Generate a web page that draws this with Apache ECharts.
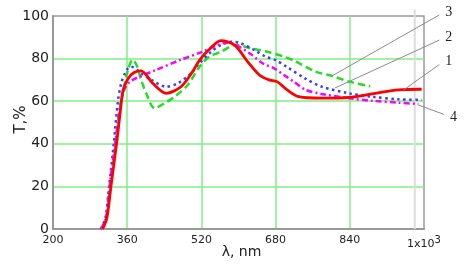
<!DOCTYPE html>
<html><head><meta charset="utf-8">
<script src="https://cdn.jsdelivr.net/npm/echarts@6/dist/echarts.min.js"></script>
<style>html,body{margin:0;padding:0;background:#fff}#c{width:468px;height:271px}</style>
</head><body><div id="c"></div>
<script>
// Axis ticks
const xTicks = [200, 360, 520, 680, 840, 1000];
const yTicks = [0, 20, 40, 60, 80, 100];

// Curve 1 (red, solid)
const wl1 = [307,316,325,337,345,351,362,375,390,415,444,476,501,516,540,562,591,620,645,666,683,705,730,780,838,895,945,995];
const t1  = [0,5,20,40,55,65,70.7,73.5,74.2,68.4,63.7,66.8,73.9,79.3,85,88.4,86.4,78.5,72.3,70,69.2,65.3,62.1,61.4,61.8,63.7,65.3,65.6];

// Curve 2 (blue, dotted)
const wl2 = [303,313,321,331,340,347,355,362,369,380,390,412,444,469,498,512,541,562,584,605,634,659,680,705,745,780,838,888,945,995];
const t2  = [0,5,20,40,60,68.4,73,75.5,76.2,75,73.1,70,66.8,68.4,73.1,77,83.2,86.4,87.9,87.2,84,80.9,79.3,76,70.5,66.8,63.7,62.1,60.9,60.6];

// Curve 3 (green, dashed)
const wl3 = [304,315,323,335,343,351,362,372,381,390,401,419,440,462,490,516,537,562,584,594,627,662,698,720,766,802,838,884];
const t3  = [0,5,20,40,55,64,75,79.5,76.5,70,63.7,56.7,59,62.1,67.5,76.2,80.9,83.2,85.9,86.4,84.8,83.2,80.9,79,73.9,71.8,69.2,67];

// Curve 4 (magenta, dash-dot)
const wl4 = [304,314,322,334,343,350,357,365,376,420,476,520,551,575,598,627,652,677,700,720,745,780,838,888,945,988];
const t4  = [0,5,20,40,55,63,67,69,70.5,74.5,79.5,83,86,87.5,86,82,77.8,75.4,72,69,65.3,63.4,61.4,60.2,59.3,58.7];

// Callout labels and the curve points they point to / line ends (data units)
const calloutLabels = ['3', '2', '1', '4'];
const calloutFrom = [[801, 71.8], [808, 66.2], [956, 65.3], [988, 58.2]];
const calloutTo   = [[1033, 100.5], [1033, 88.7], [1033, 77.2], [1043, 53.8]];
const markerWl = 980;

function pairs(a, b) { return a.map((v, i) => [v, b[i]]); }

const chart = echarts.init(document.getElementById('c'), null, {renderer: 'canvas'});
const font = 'DejaVu Sans';
const option = {
  animation: false,
  grid: {left: 53, top: 16, right: 44, bottom: 42, containLabel: false, outerBoundsMode: 'none',
         show: true, borderColor: '#999', borderWidth: 1.5, backgroundColor: 'transparent'},
  xAxis: {
    type: 'value', min: xTicks[0], max: xTicks[xTicks.length - 1], interval: xTicks[1] - xTicks[0],
    name: 'λ, nm', nameLocation: 'middle', nameGap: 16, nameMoveOverlap: false,
    nameTextStyle: {fontFamily: font, fontSize: 14, color: '#222', padding: [0, 0, 0, 6]},
    axisLine: {lineStyle: {color: '#999', width: 2}},
    axisTick: {show: false},
    axisLabel: {
      margin: 6, fontFamily: font, fontSize: 11, color: '#222',
      formatter: v => v === 1000 ? '{a|1x10}{s|3}' : String(v),
      rich: {a: {fontFamily: font, fontSize: 11, color: '#222'}, s: {fontFamily: font, fontSize: 10, color: '#222', padding: [0, 0, 9, 0]}}
    },
    splitLine: {show: true, showMinLine: false, showMaxLine: false, lineStyle: {color: '#80ef80', width: 1.5}}
  },
  yAxis: {
    type: 'value', min: yTicks[0], max: yTicks[yTicks.length - 1], interval: yTicks[1] - yTicks[0],
    name: 'T,%', nameLocation: 'middle', nameGap: 24, nameMoveOverlap: false,
    nameTextStyle: {fontFamily: font, fontSize: 15, color: '#222', padding: [0, 0, 0, 6]},
    axisLine: {show: true, lineStyle: {color: '#999', width: 2}},
    axisTick: {show: false},
    axisLabel: {margin: 4, fontFamily: font, fontSize: 14, color: '#222'},
    splitLine: {show: true, showMinLine: false, showMaxLine: false, lineStyle: {color: '#80ef80', width: 1.5}}
  },
  series: [
    {name: '3', type: 'line', data: pairs(wl3, t3), showSymbol: false, smooth: 0.3, z: 3,
     lineStyle: {color: '#22dd22', width: 2.5, type: [7, 4]}},
    {name: '2', type: 'line', data: pairs(wl2, t2), showSymbol: false, smooth: 0.3, z: 4,
     lineStyle: {color: '#3b3bff', width: 2.5, type: [2.5, 3.5]}},
    {name: '4', type: 'line', data: pairs(wl4, t4), showSymbol: false, smooth: 0.3, z: 5,
     lineStyle: {color: '#ff00ff', width: 2.5, type: [6, 3, 2, 3]}},
    {name: '1', type: 'line', data: pairs(wl1, t1), showSymbol: false, smooth: 0.3, z: 6,
     lineStyle: {color: '#ff0000', width: 2.8}}
  ]
};
chart.setOption(option);

const g = [];
const pTop = chart.convertToPixel({gridIndex: 0}, [markerWl, 103]);
const pBot = chart.convertToPixel({gridIndex: 0}, [markerWl, 0]);
g.push({type: 'line', z: 1, shape: {x1: pTop[0], y1: pTop[1], x2: pBot[0], y2: pBot[1]}, style: {stroke: '#dcdcdc', lineWidth: 2}});
calloutLabels.forEach((lab, i) => {
  const a = chart.convertToPixel({gridIndex: 0}, calloutFrom[i]);
  const b = chart.convertToPixel({gridIndex: 0}, calloutTo[i]);
  g.push({type: 'line', z: 10, shape: {x1: a[0], y1: a[1], x2: b[0], y2: b[1]}, style: {stroke: '#8a8a8a', lineWidth: 1}});
  const below = b[1] > a[1];
  g.push({type: 'text', z: 10, x: b[0] + 6, y: b[1] + (below ? 3 : -3),
    style: {text: lab, fill: '#222', font: '14px "Liberation Serif"', textAlign: 'left', textVerticalAlign: 'middle'}});
});
chart.setOption({graphic: g});
</script>
</body></html>
